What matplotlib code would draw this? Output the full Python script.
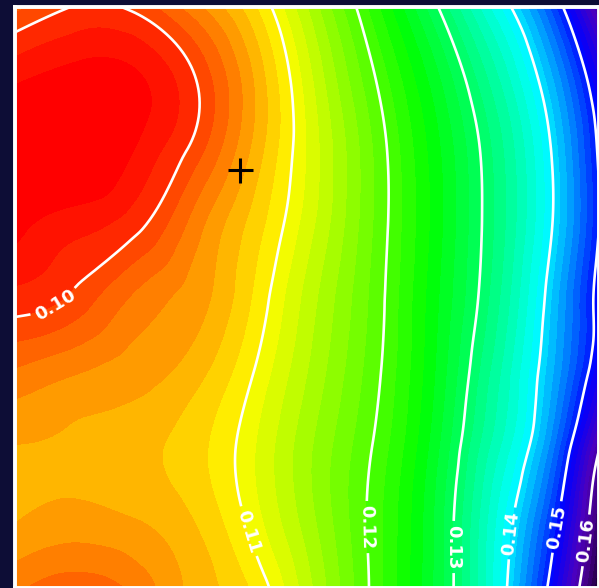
import numpy as np
import matplotlib
matplotlib.use("Agg")
import matplotlib.pyplot as plt
import matplotlib.tri as mtri
from matplotlib.colors import LinearSegmentedColormap, Normalize

# grid node positions (arbitrary units, x to the right, y upward)
x_nodes = [0, 60, 120, 180, 240, 300, 360, 420, 480, 540, 600]
y_nodes = [581, 508, 435, 362, 289, 216, 143, 70, -3]

# field values, one row per y node (top to bottom)
row_0 = [0.1018, 0.0999, 0.1004, 0.1037, 0.1083, 0.1151, 0.1222, 0.1296, 0.1377, 0.1481, 0.1650]
row_1 = [0.0973, 0.0963, 0.0968, 0.0999, 0.1058, 0.1130, 0.1199, 0.1264, 0.1336, 0.1430, 0.1570]
row_2 = [0.0955, 0.0950, 0.0972, 0.1007, 0.1062, 0.1123, 0.1187, 0.1250, 0.1317, 0.1407, 0.1545]
row_3 = [0.0966, 0.0980, 0.0995, 0.1035, 0.1078, 0.1128, 0.1187, 0.1248, 0.1315, 0.1405, 0.1540]
row_4 = [0.0991, 0.1004, 0.1031, 0.1050, 0.1088, 0.1140, 0.1191, 0.1252, 0.1321, 0.1420, 0.1550]
row_5 = [0.1030, 0.1041, 0.1050, 0.1065, 0.1101, 0.1148, 0.1195, 0.1256, 0.1334, 0.1430, 0.1565]
row_6 = [0.1057, 0.1060, 0.1066, 0.1080, 0.1113, 0.1158, 0.1202, 0.1264, 0.1348, 0.1455, 0.1657]
row_7 = [0.1058, 0.1052, 0.1057, 0.1072, 0.1108, 0.1156, 0.1207, 0.1272, 0.1368, 0.1491, 0.1700]
row_8 = [0.1030, 0.1018, 0.1031, 0.1062, 0.1088, 0.1144, 0.1206, 0.1273, 0.1375, 0.1524, 0.1730]

line_levels = [0.10, 0.11, 0.12, 0.13, 0.14, 0.15, 0.16]
label_positions = [(40, 283), (238, 58), (355, 61), (433, 41), (493, 55), (542, 61), (568, 48)]
marker_pos = (225, 418)

# colour map anchors (value, rgb)
cmap_values = [0.0966, 0.0995, 0.1000, 0.1100, 0.1245, 0.1390, 0.1510, 0.1580, 0.1620, 0.1700]
cmap_colors = [(255, 0, 0), (255, 45, 0), (255, 60, 0), (255, 252, 0), (0, 255, 0),
               (0, 255, 255), (0, 0, 255), (75, 0, 190), (70, 0, 140), (0, 0, 0)]

vmin, vmax = cmap_values[0], cmap_values[-1]
cmap = LinearSegmentedColormap.from_list(
    "idl_rainbow",
    [((v - vmin) / (vmax - vmin), tuple(c / 255 for c in col)) for v, col in zip(cmap_values, cmap_colors)],
    N=512)
cmap.set_under((1, 0, 0))
cmap.set_over((0, 0, 0))
norm = Normalize(vmin=vmin, vmax=vmax)
fill_levels = np.linspace(0.09, 0.18, 64)

fig = plt.figure(figsize=(5.99, 5.88), dpi=100, facecolor="#0d0d36")
ax = fig.add_axes([15 / 599, 0, 584 / 599, 581 / 588])

X, Y = np.meshgrid(x_nodes, y_nodes)
Z = np.array([row_0, row_1, row_2, row_3, row_4, row_5, row_6, row_7, row_8])
tri = mtri.Triangulation(X.ravel().astype(float), Y.ravel().astype(float))
refiner = mtri.UniformTriRefiner(tri)
tri_f, z_f = refiner.refine_field(Z.ravel(), subdiv=4)

ax.tricontourf(tri_f, z_f, levels=fill_levels, cmap=cmap, norm=norm, antialiased=False)
cs = ax.tricontour(tri_f, z_f, levels=line_levels, colors="white", linewidths=1.9)
labels = ax.clabel(cs, fmt="%.2f", manual=label_positions, inline=True, inline_spacing=6,
                   fontsize=13, colors="white")
for t in labels:
    t.set_fontweight("bold")
ax.plot(marker_pos[0], marker_pos[1], marker="+", color="black", ms=18, mew=2.2, zorder=5)

ax.set_xlim(0, 584)
ax.set_ylim(0, 581)
ax.set_xticks([])
ax.set_yticks([])
for s in ax.spines.values():
    s.set_color("white")
    s.set_linewidth(2.8)

fig.savefig("out.png", dpi=100, facecolor=fig.get_facecolor())
